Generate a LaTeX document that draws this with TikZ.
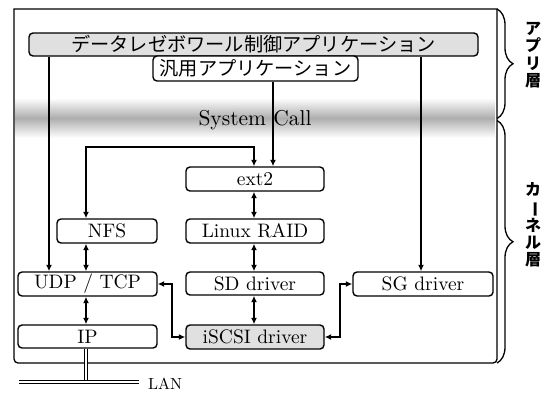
\documentclass[tikz,border=0pt]{standalone}
\usepackage{fontspec}
\usepackage{graphicx}
\setmainfont{lmroman10-regular.otf}
\newfontfamily\cjk{Noto Sans CJK JP}
\usetikzlibrary{arrows.meta,decorations.pathreplacing}
\begin{document}
\begin{tikzpicture}[x=1pt,y=-1pt,
  box/.style={draw,line width=1.4pt,rounded corners=4pt,inner sep=0pt,
    font=\fontsize{19.5}{22}\selectfont},
  jbox/.style={box,font=\cjk\fontsize{19.2}{22}\selectfont},
  conn/.style={line width=1.3pt,-{Latex[length=6.5pt,width=6pt]}},
  bconn/.style={line width=1.3pt,{Latex[length=6.5pt,width=6pt]}-{Latex[length=6.5pt,width=6pt]}},
  brc/.style={decorate,decoration={brace,amplitude=16pt},line width=1.3pt},
  vlab/.style={font=\cjk\bfseries\fontsize{16}{17.3}\selectfont,align=center,inner sep=0pt},
  lan/.style={double,double distance=1.8pt,line width=0.9pt}]
\useasboundingbox (0,0) rectangle (556,394);
% band
\shade[top color=white,bottom color=white,middle color=black!32] (15,98) rectangle (495,138);
% frame
\draw[line width=1.3pt] (14,9) -- (497,9) {[rounded corners=4pt] -- (497,363) -- (14,363)} -- cycle;
% braces
\draw[brc] (497,9) -- (497,118.5);
\draw[brc] (497,120.5) -- (497,363);
\node[vlab] (lapp) at (533,55) {ア\\プ\\リ\\層};
\node[vlab] (lker) at (533,225) {カ\\\rotatebox[origin=c]{-90}{ー}\\ネ\\ル\\層};
\node (sc) at (255,120) {\fontsize{21.5}{24}\selectfont System Call};
% boxes
\node[jbox,fill=black!12,minimum width=449pt,minimum height=23pt] (app) at (253.5,44.5) {データレゼボワール制御アプリケーション};
\node[jbox,fill=white,minimum width=205pt,minimum height=25pt] (gen) at (255.5,68.5) {汎用アプリケーション};
\node[box,minimum width=138pt,minimum height=24pt] (ext2) at (255,179) {ext2};
\node[box,minimum width=138pt,minimum height=24pt] (raid) at (255,231) {Linux RAID};
\node[box,minimum width=138pt,minimum height=23pt] (sd) at (255,283.5) {SD driver};
\node[box,fill=black!12,minimum width=138pt,minimum height=24pt] (iscsi) at (255,337) {iSCSI driver};
\node[box,minimum width=100pt,minimum height=24pt] (nfs) at (107,231) {NFS};
\node[box,minimum width=139pt,minimum height=24pt] (udp) at (87.5,284) {UDP / TCP};
\node[box,minimum width=139pt,minimum height=23pt] (ip) at (87.5,336.5) {IP};
\node[box,minimum width=140pt,minimum height=24pt] (sg) at (423,284) {SG driver};
% helper coordinates
\coordinate (xA) at (49,0);
\coordinate (xB) at (86,0);
\coordinate (xC) at (254,0);
\coordinate (xD) at (273,0);
\coordinate (xE) at (421,0);
\coordinate (xF) at (172,0);
\coordinate (xG) at (340,0);
\coordinate (yN) at (0,147);
\coordinate (lanL) at (19,382);
\coordinate (lanR) at (139,382);
% connectors
\draw[conn] (app.south -| xA) -- (udp.north -| xA);
\draw[conn] (app.south -| xE) -- (sg.north -| xE);
\draw[conn] (gen.south -| xD) -- (ext2.north -| xD);
\draw[bconn] (nfs.north -| xB) -- (xB |- yN) -- (xC |- yN) -- (ext2.north -| xC);
\draw[bconn] (ext2.south -| xC) -- (raid.north -| xC);
\draw[bconn] (raid.south -| xC) -- (sd.north -| xC);
\draw[bconn] (sd.south -| xC) -- (iscsi.north -| xC);
\draw[bconn] (nfs.south -| xB) -- (udp.north -| xB);
\draw[bconn] (udp.south -| xB) -- (ip.north -| xB);
\draw[bconn] (udp.east) -- (udp.east -| xF) -- (xF |- iscsi.west) -- (iscsi.west);
\draw[bconn] (iscsi.east) -- (iscsi.east -| xG) -- (xG |- sg.west) -- (sg.west);
% LAN
\draw[lan] (ip.south -| xB) -- (xB |- lanL);
\draw[lan] (lanL) -- (lanR);
\node[anchor=west,inner sep=0pt,font=\fontsize{16}{18}\selectfont] (lant) at (148,384) {LAN};
\end{tikzpicture}
\end{document}
